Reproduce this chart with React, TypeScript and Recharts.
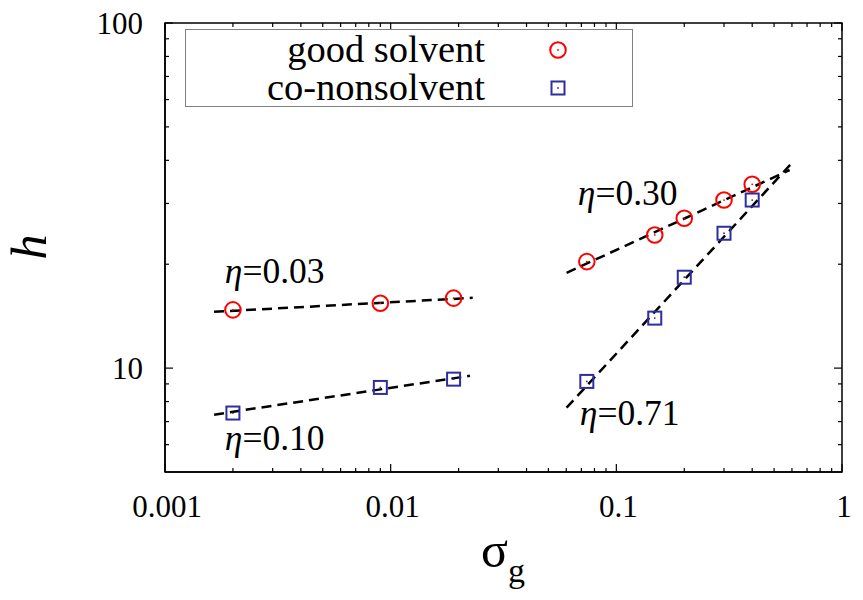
import React from 'react'
import { ScatterChart, Scatter, XAxis, YAxis, ReferenceDot, ReferenceArea, Legend } from 'recharts'

// grafting density sigma_g (same grid for both solvents)
const sigmaG = [0.002, 0.009, 0.019, 0.074, 0.148, 0.2, 0.3, 0.4]
const hGood = [14.75, 15.42, 15.95, 20.35, 24.31, 27.17, 30.69, 34.09]
const hCoNon = [7.41, 8.79, 9.29, 9.15, 13.96, 18.34, 24.59, 30.69]

// power-law fits, endpoints of each dashed segment
const fitGoodLowX = [0.00165, 0.0231]
const fitGoodLowY = [14.56, 15.98]
const fitCoLowX = [0.00165, 0.02245]
const fitCoLowY = [7.33, 9.5]
const fitGoodHighX = [0.0602, 0.586]
const fitGoodHighY = [18.88, 37.5]
const fitCoHighX = [0.0602, 0.604]
const fitCoHighY = [7.68, 39.5]

// exponent labels and where they sit (x, baseline y)
const etaLabels = ['0.03', '0.10', '0.30', '0.71']
const etaX = [0.00184, 0.00184, 0.0675, 0.0689]
const etaY = [17.66, 5.8, 29.7, 6.85]

const X_MAJOR = [0.001, 0.01, 0.1, 1]
const X_MAJOR_LABELS = ['0.001', '0.01', '0.1', '1']
const Y_MAJOR = [10, 100]
const Y_MAJOR_LABELS = ['10', '100']
const MINOR_STEPS = [2, 3, 4, 5, 6, 7, 8, 9]
const Y_LOW_MINOR = [6, 7, 8, 9]

const RED = '#ff0000'
const BLUE = '#2e2e9e'
const FONT = '"Liberation Serif", "Times New Roman", serif'

const W = 850
const H = 585
// axes take 1px each (a zero-sized axis is not drawn)
const MARGIN = { top: 15, right: 16, bottom: 120, left: 156 }
const PLOT_W = W - MARGIN.left - 1 - MARGIN.right
const PLOT_H = H - MARGIN.top - MARGIN.bottom - 1

const xTicks = [
  ...X_MAJOR.slice(0, 3).flatMap((d) => [d, ...MINOR_STEPS.map((m) => m * d)]),
  1,
]
const yTicks = [...Y_LOW_MINOR, 10, ...MINOR_STEPS.map((m) => m * 10), 100]

const toPoints = (xs: number[], ys: number[]) => xs.map((x, i) => ({ x, y: ys[i] }))

const findMajor = (v: number, majors: number[]) =>
  majors.findIndex((m) => Math.abs(Math.log10(v) - Math.log10(m)) < 1e-9)

const XTick = (props: any) => {
  const { x, y, payload } = props
  const idx = findMajor(payload.value, X_MAJOR)
  const len = idx >= 0 ? 8 : 4
  return (
    <g>
      <line x1={x} y1={y} x2={x} y2={y - len} stroke="#000" strokeWidth={1.2} />
      <line x1={x} y1={y - PLOT_H} x2={x} y2={y - PLOT_H + len} stroke="#000" strokeWidth={1.2} />
      {idx >= 0 && (
        <text x={x + 2} y={y + 45} textAnchor="middle" fontSize={31} fontFamily={FONT} fill="#000">
          {X_MAJOR_LABELS[idx]}
        </text>
      )}
    </g>
  )
}

const YTick = (props: any) => {
  const { x, y, payload } = props
  const idx = findMajor(payload.value, Y_MAJOR)
  const len = idx >= 0 ? 8 : 4
  return (
    <g>
      <line x1={x} y1={y} x2={x + len} y2={y} stroke="#000" strokeWidth={1.2} />
      <line x1={x + PLOT_W} y1={y} x2={x + PLOT_W - len} y2={y} stroke="#000" strokeWidth={1.2} />
      {idx >= 0 && (
        <text x={x - 22} y={y + 11} textAnchor="end" fontSize={31} fontFamily={FONT} fill="#000">
          {Y_MAJOR_LABELS[idx]}
        </text>
      )}
    </g>
  )
}

const CircleMark = (props: any) => {
  const { cx, cy } = props
  return (
    <g>
      <circle cx={cx} cy={cy} r={7.8} fill="none" stroke={RED} strokeWidth={2} />
      <circle cx={cx} cy={cy} r={0.9} fill={RED} />
    </g>
  )
}

const SquareMark = (props: any) => {
  const { cx, cy } = props
  return (
    <g>
      <rect x={cx - 6.5} y={cy - 6.5} width={13} height={13} fill="none" stroke={BLUE} strokeWidth={2} />
      <circle cx={cx} cy={cy} r={0.9} fill={BLUE} />
    </g>
  )
}

const NoMark = () => <g />

const fitLine = { stroke: '#000', strokeWidth: 2.5, strokeDasharray: '10 6' }

const LegendBox = () => (
  <svg width={448} height={78} style={{ display: 'block' }}>
    <rect x={0.5} y={0.5} width={447} height={77} fill="#fff" stroke="#808080" strokeWidth={1} />
    <text x={300} y={33} textAnchor="end" fontSize={38.5} fontFamily={FONT} fill="#000">
      good solvent
    </text>
    <text x={300} y={71} textAnchor="end" fontSize={38.5} fontFamily={FONT} fill="#000">
      co-nonsolvent
    </text>
    <CircleMark cx={373} cy={21} />
    <SquareMark cx={373} cy={59} />
  </svg>
)

const etaLabel = (text: string) => (p: any) => (
  <text x={p.cx} y={p.cy} fontSize={35.5} fontFamily={FONT} fill="#000">
    <tspan fontStyle="italic">η</tspan>={text}
  </text>
)

export default function App() {
  return (
    <ScatterChart width={W} height={H} margin={MARGIN} style={{ fontFamily: FONT }}>
      <XAxis
        type="number"
        dataKey="x"
        scale="log"
        domain={[0.001, 1]}
        allowDataOverflow
        ticks={xTicks}
        interval={0}
        height={1}
        tickSize={0}
        tickMargin={0}
        tickLine={false}
        tick={XTick}
        axisLine={{ stroke: '#000', strokeWidth: 1.5 }}
        label={() => (
          <text fontFamily={FONT} fill="#000">
            <tspan x={473} y={559} fontSize={50}>σ</tspan>
            <tspan x={500} y={574} fontSize={34}>g</tspan>
          </text>
        )}
      />
      <YAxis
        type="number"
        dataKey="y"
        scale="log"
        domain={[5, 100]}
        allowDataOverflow
        ticks={yTicks}
        interval={0}
        width={1}
        tickSize={0}
        tickMargin={0}
        tickLine={false}
        tick={YTick}
        axisLine={{ stroke: '#000', strokeWidth: 1.5 }}
        label={() => (
          <text
            x={21}
            y={239}
            transform="rotate(-90 21 239)"
            textAnchor="middle"
            dominantBaseline="central"
            fontSize={50}
            fontStyle="italic"
            fontFamily={FONT}
            fill="#000"
          >
            h
          </text>
        )}
      />
      <ReferenceArea x1={0.001} x2={1} y1={5} y2={100} fill="none" stroke="#000" strokeWidth={1.5} />

      <Scatter data={toPoints(fitGoodLowX, fitGoodLowY)} line={fitLine} shape={NoMark} legendType="none" isAnimationActive={false} />
      <Scatter data={toPoints(fitCoLowX, fitCoLowY)} line={fitLine} shape={NoMark} legendType="none" isAnimationActive={false} />
      <Scatter data={toPoints(fitGoodHighX, fitGoodHighY)} line={fitLine} shape={NoMark} legendType="none" isAnimationActive={false} />
      <Scatter data={toPoints(fitCoHighX, fitCoHighY)} line={fitLine} shape={NoMark} legendType="none" isAnimationActive={false} />

      <Scatter name="good solvent" data={toPoints(sigmaG, hGood)} shape={CircleMark} isAnimationActive={false} />
      <Scatter name="co-nonsolvent" data={toPoints(sigmaG, hCoNon)} shape={SquareMark} isAnimationActive={false} />

      {etaLabels.map((t, i) => (
        <ReferenceDot key={t} x={etaX[i]} y={etaY[i]} r={0} shape={etaLabel(t)} />
      ))}

      <Legend
        layout="horizontal"
        align="center"
        verticalAlign="middle"
        content={LegendBox}
        wrapperStyle={{ left: 177, top: 21, width: 448, height: 78 }}
      />
    </ScatterChart>
  )
}
